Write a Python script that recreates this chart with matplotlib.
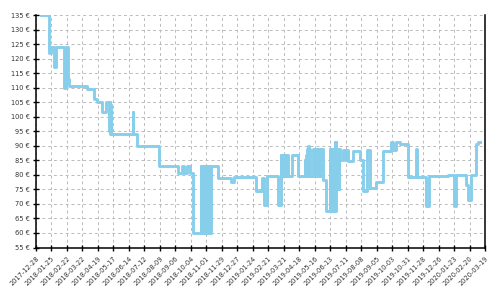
import matplotlib
matplotlib.use("Agg")
import matplotlib.pyplot as plt
import matplotlib.dates as mdates
import pandas as pd

# price history (step changes)
dates = [
    "2018-01-06", "2018-01-21", "2018-01-25", "2018-01-29", "2018-02-02",
    "2018-02-16", "2018-02-21", "2018-02-23", "2018-02-25", "2018-03-31",
    "2018-04-12", "2018-04-18", "2018-04-26", "2018-05-03", "2018-05-09",
    "2018-05-10", "2018-05-11", "2018-05-12", "2018-05-13", "2018-06-21",
    "2018-06-22", "2018-06-28", "2018-08-07", "2018-09-11", "2018-09-18",
    "2018-09-22", "2018-09-26", "2018-10-02", "2018-10-08",
    "2018-10-22", "2018-10-23", "2018-10-24", "2018-10-25", "2018-10-26",
    "2018-10-27", "2018-10-30", "2018-10-31", "2018-11-01", "2018-11-02",
    "2018-11-03", "2018-11-04", "2018-11-05", "2018-11-06", "2018-11-07",
    "2018-11-08", "2018-11-09", "2018-11-22", "2018-12-15", "2018-12-21",
    "2019-01-29", "2019-02-10", "2019-02-13", "2019-02-19", "2019-03-10",
    "2019-03-15", "2019-03-16", "2019-03-17", "2019-03-18", "2019-03-19",
    "2019-03-20", "2019-03-21", "2019-03-22", "2019-03-23", "2019-03-24",
    "2019-03-25", "2019-03-26", "2019-03-27", "2019-03-28", "2019-04-04",
    "2019-04-16", "2019-04-28", "2019-04-29", "2019-04-30", "2019-05-01",
    "2019-05-02", "2019-05-03", "2019-05-04", "2019-05-05", "2019-05-06",
    "2019-05-07", "2019-05-13", "2019-05-14", "2019-05-15", "2019-05-16",
    "2019-05-17", "2019-05-18", "2019-05-19", "2019-05-20", "2019-05-21",
    "2019-05-22", "2019-05-23", "2019-05-24", "2019-05-25", "2019-05-26",
    "2019-05-27", "2019-05-28", "2019-05-29", "2019-05-30", "2019-06-06",
    "2019-06-12", "2019-06-13", "2019-06-14", "2019-06-15", "2019-06-16",
    "2019-06-17", "2019-06-18", "2019-06-19", "2019-06-20", "2019-06-21",
    "2019-06-22", "2019-06-23", "2019-06-24", "2019-06-25", "2019-06-26",
    "2019-06-27", "2019-06-28", "2019-06-29", "2019-06-30", "2019-07-06",
    "2019-07-09", "2019-07-13", "2019-07-15", "2019-07-24", "2019-08-05",
    "2019-08-11", "2019-08-19", "2019-08-23", "2019-09-04", "2019-09-16",
    "2019-09-17", "2019-10-01", "2019-10-04", "2019-10-10", "2019-10-16",
    "2019-10-31", "2019-11-14", "2019-11-16", "2019-12-02", "2019-12-09",
    "2020-01-11", "2020-01-22", "2020-01-26", "2020-02-13", "2020-02-17",
    "2020-02-23", "2020-03-03", "2020-03-05", "2020-03-09",
]
prices = [
    135, 122, 124, 117, 124,
    110, 124, 113, 110.5, 109.5,
    106, 105, 101.5, 105, 95,
    105, 94, 104, 94, 101.5,
    94, 90, 83, 80.6, 83,
    80.6, 83, 80.6, 60,
    83, 60, 83, 60, 83,
    60, 83, 60, 83, 60,
    83, 60, 83, 60, 83,
    60, 83, 79, 77.5, 79.3,
    74.3, 79, 69.5, 79.5, 69.5,
    87, 79.5, 87, 79.5, 87,
    79.5, 87, 79.5, 87, 79.5,
    87, 79.5, 87, 79.5, 87,
    79.5, 85, 79.5, 87, 79.5,
    89, 79.5, 90, 79.5, 89,
    79.5, 89, 79.5, 89, 79.5,
    89, 79.5, 89, 79.5, 89,
    79.5, 89, 79.5, 89, 79.5,
    89, 79.5, 89, 78.3, 67.4,
    89, 67.4, 89, 67.4, 89,
    67.4, 89, 67.4, 89, 91.3,
    67.4, 91.3, 75, 89, 75,
    89, 75, 89, 85, 88.5,
    85, 88.5, 84.7, 88.3, 85,
    74.3, 88.5, 75.5, 77.5, 84.5,
    88.3, 91.3, 88.7, 91.3, 90.7,
    79.2, 89, 79.2, 69.2, 79.5,
    80, 69.2, 80, 76.4, 71.5,
    80, 90.5, 91.3, 91.3,
]

tick_dates = [
    "2017-12-28", "2018-01-25", "2018-02-22", "2018-03-22", "2018-04-19",
    "2018-05-17", "2018-06-14", "2018-07-12", "2018-08-09", "2018-09-06",
    "2018-10-04", "2018-11-01", "2018-11-29", "2018-12-27", "2019-01-24",
    "2019-02-21", "2019-03-21", "2019-04-18", "2019-05-16", "2019-06-13",
    "2019-07-11", "2019-08-08", "2019-09-05", "2019-10-03", "2019-10-31",
    "2019-11-28", "2019-12-26", "2020-01-23", "2020-02-20", "2020-03-19",
]
y_ticks = list(range(55, 136, 5))

x = pd.to_datetime(dates)
ticks = pd.to_datetime(tick_dates)

fig = plt.figure(figsize=(5, 3), dpi=100)
ax = fig.add_axes([0.072, 0.175, 0.8986, 0.775])

ax.step(x, prices, where="post", color="#87ceeb", linewidth=2.1, zorder=3)

ax.set_xlim(ticks[0], ticks[-1])
ax.set_ylim(55, 135)
ax.set_xticks(ticks)
ax.set_xticklabels(tick_dates, rotation=45, ha="right", rotation_mode="anchor")
ax.set_yticks(y_ticks)
ax.set_yticklabels([f"{v} €" for v in y_ticks])

ax.tick_params(direction="inout", length=5, width=1, colors="black",
               labelsize=4.8, labelcolor="#333333", pad=2)
ax.tick_params(axis="x", pad=3)

ax.grid(True, color="#bbbbbb", linestyle=(0, (3, 3)), linewidth=0.7)
ax.set_axisbelow(True)

ax.spines["top"].set_visible(False)
for s in ["left", "bottom", "right"]:
    ax.spines[s].set_linewidth(1.1)
    ax.spines[s].set_color("black")

fig.savefig("out.png", dpi=100)
